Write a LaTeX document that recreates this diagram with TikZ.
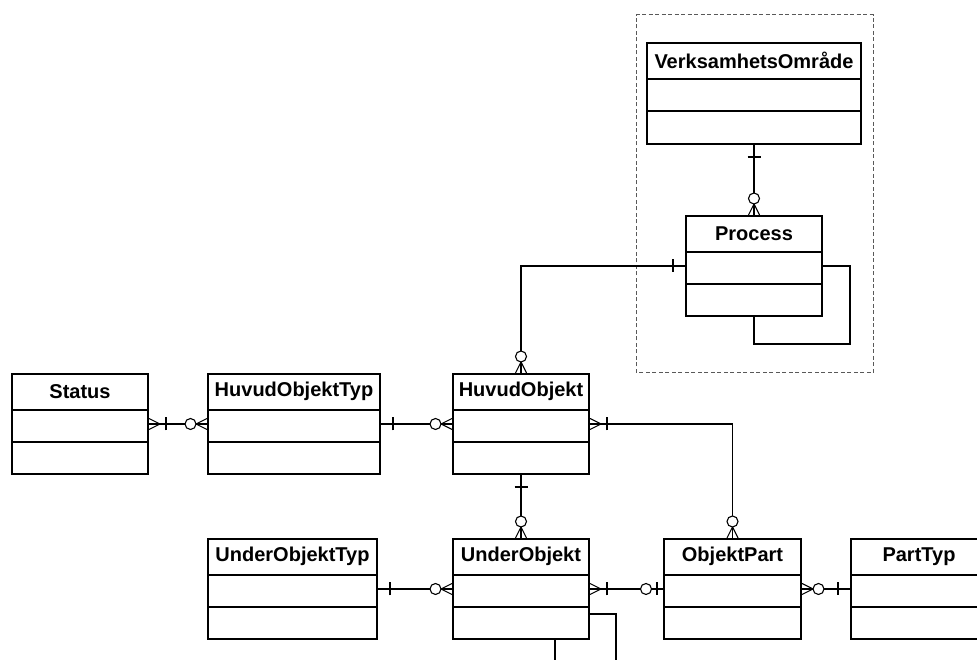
\documentclass[tikz,border=0pt]{standalone}
\usepackage{fontspec}
\setmainfont{Liberation Sans}
\usetikzlibrary{calc}
\tikzset{
  ebox/.style={draw, line width=2pt, inner sep=0pt, fill=white},
  etitle/.style={inner sep=0pt, font=\bfseries\fontsize{20}{22}\selectfont},
  ebord/.style={line width=2pt},
  conn/.style={line width=1.1pt},
  frame/.style={draw=black!65, line width=1pt, dash pattern=on 4pt off 2.5pt},
  zmany/.pic={\draw[conn] (0,5.5)--(11,0)--(0,-5.5); \draw[conn,fill=white] (16.5,0) circle[radius=5.5pt];},
  omany/.pic={\draw[conn] (0,5.5)--(11,0)--(0,-5.5); \draw[conn] (17,-6.5)--(17,6.5);},
  onebar/.pic={\draw[conn] (12,-6.5)--(12,6.5);},
  zone/.pic={\draw[conn,fill=white] (17,0) circle[radius=5.5pt]; \draw[conn] (6,-6.5)--(6,6.5);}
}
\newcommand\erbox[6]{%
  \node[ebox, minimum width=#4pt, minimum height=#5pt] (#1) at (#2,#3) {};
  \node[etitle] (#1-t) at ($(#1.north)+(0,-18.5)$) {#6};
  \draw[ebord] ($(#1.north west)+(0,-37)$) -- ($(#1.north east)+(0,-37)$);
  \draw[ebord] ($(#1.north west)+(0,-69)$) -- ($(#1.north east)+(0,-69)$);
}
\begin{document}
\begin{tikzpicture}[x=1pt,y=1pt]
\useasboundingbox (0,0) rectangle (977,660);
\clip (0,0) rectangle (977,660);
% grouping frame
\draw[frame] (636,287) rectangle (873,645);
% entities
\erbox{vo}{754}{566.5}{214}{101}{VerksamhetsOmråde}
\erbox{proc}{754}{394}{136}{100}{Process}
\erbox{status}{80}{236}{136}{100}{Status}
\erbox{hot}{294}{236}{172}{100}{HuvudObjektTyp}
\erbox{ho}{521}{236}{136}{100}{HuvudObjekt}
\erbox{uot}{292.5}{71}{169}{100}{UnderObjektTyp}
\erbox{uo}{521}{71}{136}{100}{UnderObjekt}
\erbox{op}{732.5}{71}{137}{100}{ObjektPart}
\erbox{pt}{919}{71}{136}{100}{PartTyp}
\coordinate (out1) at (555,0);
\coordinate (out2) at (616,0);
% connectors
\draw[conn] (vo.south) -- (proc.north);
\draw[conn] (proc.west) -| (ho.north);
\draw[conn] (proc.east) -- ++(27,0) |- ($(proc.south)+(0,-27)$) -- (proc.south);
\draw[conn] (status.east) -- (hot.west);
\draw[conn] (hot.east) -- (ho.west);
\draw[conn] (ho.east) -| (op.north);
\draw[conn] (ho.south) -- (uo.north);
\draw[conn] (uot.east) -- (uo.west);
\draw[conn] (uo.east) -- (op.west);
\draw[conn] (op.east) -- (pt.west);
\draw[conn] (uo.south -| out1) -- (out1);
\draw[conn] ($(uo.east)+(0,-25)$) -| (out2);
% ends
\pic[rotate=-90] at (vo.south) {onebar};
\pic[rotate=90] at (proc.north) {zmany};
\pic[rotate=180] at (proc.west) {onebar};
\pic[rotate=90] at (ho.north) {zmany};
\pic at (status.east) {omany};
\pic[rotate=180] at (hot.west) {zmany};
\pic at (hot.east) {onebar};
\pic[rotate=180] at (ho.west) {zmany};
\pic at (ho.east) {omany};
\pic[rotate=90] at (op.north) {zmany};
\pic[rotate=-90] at (ho.south) {onebar};
\pic[rotate=90] at (uo.north) {zmany};
\pic at (uot.east) {onebar};
\pic[rotate=180] at (uo.west) {zmany};
\pic at (uo.east) {omany};
\pic[rotate=180] at (op.west) {zone};
\pic at (op.east) {zmany};
\pic[rotate=180] at (pt.west) {onebar};
\end{tikzpicture}
\end{document}
